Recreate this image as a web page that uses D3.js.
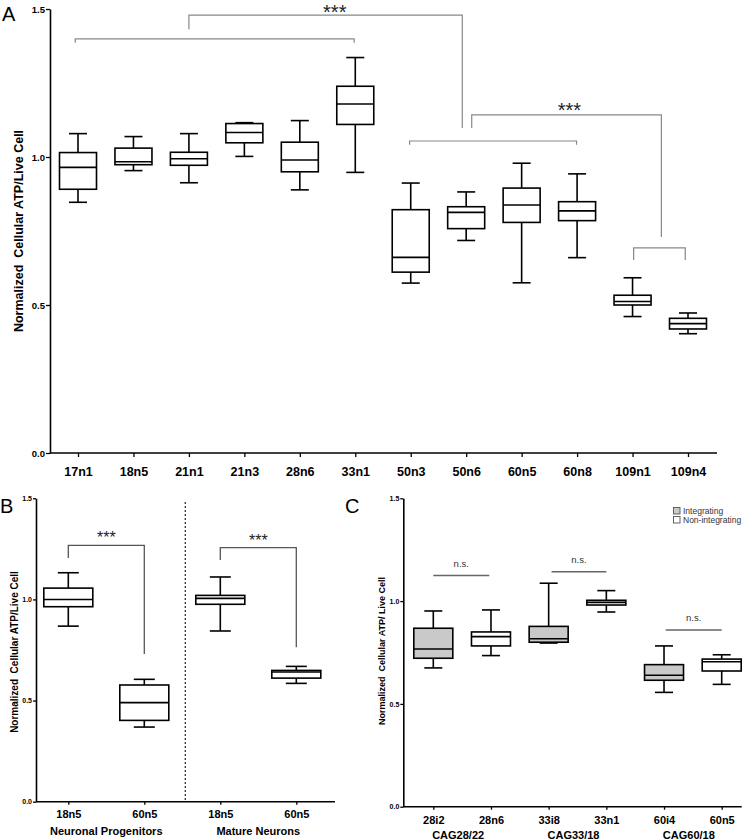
<!DOCTYPE html>
<html><head><meta charset="utf-8">
<script src="https://cdn.jsdelivr.net/npm/d3@7"></script>
<style>body{margin:0;background:#fff} text{font-family:"Liberation Sans",Arial,Helvetica,sans-serif}</style>
</head><body><svg id="c" width="750" height="840"></svg>
<script>
// ---------- DATA ----------
const yTicks = [0, 0.5, 1.0, 1.5];

const catsA = ["17n1","18n5","21n1","21n3","28n6","33n1","50n3","50n6","60n5","60n8","109n1","109n4"];
const maxA = [1.079,1.069,1.079,1.116,1.123,1.336,0.912,0.882,0.979,0.943,0.592,0.473];
const q3A  = [1.015,1.030,1.016,1.113,1.050,1.239,0.822,0.832,0.895,0.849,0.533,0.455];
const medA = [0.965,0.984,0.994,1.083,0.990,1.179,0.661,0.813,0.838,0.818,0.512,0.437];
const q1A  = [0.891,0.974,0.972,1.048,0.950,1.110,0.611,0.758,0.779,0.785,0.500,0.419];
const minA = [0.847,0.954,0.913,1.002,0.889,0.948,0.574,0.718,0.575,0.660,0.461,0.403];

const catsB = ["18n5","60n5","18n5","60n5"];
const groupsB = ["Neuronal Progenitors","Mature Neurons"];
const maxB = [1.132,0.605,1.111,0.669];
const q3B  = [1.056,0.577,1.020,0.649];
const medB = [1.000,0.490,1.005,0.641];
const q1B  = [0.964,0.402,0.976,0.611];
const minB = [0.868,0.369,0.844,0.585];

const catsC = ["28i2","28n6","33i8","33n1","60i4","60n5"];
const typeC = ["Integrating","Non-integrating","Integrating","Non-integrating","Integrating","Non-integrating"];
const groupsC = ["CAG28/22","CAG33/18","CAG60/18"];
const maxC = [0.952,0.957,1.087,1.051,0.782,0.739];
const q3C  = [0.868,0.850,0.877,1.004,0.691,0.718];
const medC = [0.767,0.827,0.817,0.994,0.639,0.705];
const q1C  = [0.722,0.782,0.800,0.981,0.615,0.660];
const minC = [0.675,0.735,0.796,0.947,0.556,0.595];
const legendC = ["Integrating","Non-integrating"];

// brackets: [x-index left, x-index right, y left leg end, y bar, y right leg end]
const bracketsA = [[-0.05,4.98,1.386,1.399,1.386],[2,6.93,1.432,1.479,1.098],[5.98,8.99,1.041,1.054,1.041],[7.1,10.52,1.098,1.142,0.730],[10.02,10.95,0.652,0.693,0.652]];
const starsA = [[4.63,1.466],[8.86,1.136]];
const bracketsB = [[0,1,1.205,1.267,0.730],[2,3,1.195,1.256,0.763]];
const starsB = [[0.5,1.278],[2.5,1.262]];
const nsC = [[0,0.97,1.125,1.167],[2.05,3,1.143,1.187],[4.03,5,0.859,0.905]];

// ---------- DRAW ----------
const svg = d3.select("#c");
const fillC = {"Integrating":"#c9c9c9","Non-integrating":"#ffffff"};

function panel(o){
  const g = svg.append("g");
  const n = o.cats.length;
  const y = d3.scaleLinear().domain([0,1.5]).range([o.y0,o.y1]);
  const x = d3.scalePoint().domain(d3.range(n)).range([o.px0,o.px1]);
  const xi = d3.scaleLinear().domain([0,n-1]).range([o.px0,o.px1]);
  const ya = g.append("g").attr("transform",`translate(${o.ax0},0)`)
    .call(d3.axisLeft(y).tickValues(yTicks).tickFormat(d3.format(".1f")).tickSize(o.tick).tickSizeOuter(0).tickPadding(1));
  ya.select(".domain").attr("stroke","#000").attr("stroke-width",1.6);
  ya.selectAll(".tick line").attr("stroke-width",1.3);
  ya.selectAll("text").attr("font-size",o.tfs).attr("font-weight","bold").attr("fill","#000");
  const xa = g.append("g").attr("transform",`translate(0,${o.y0})`)
    .call(d3.axisBottom(x).tickSize(o.tick).tickSizeOuter(0).tickFormat(i=>o.cats[i]));
  xa.select(".domain").remove();
  xa.selectAll(".tick line").attr("stroke-width",1.3);
  xa.selectAll("text").attr("font-size",o.xfs).attr("font-weight","bold").attr("fill","#000")
    .attr("y",o.xly).attr("dy","0");
  g.append("line").attr("x1",o.ax0).attr("x2",o.ax1).attr("y1",o.y0).attr("y2",o.y0)
    .attr("stroke","#000").attr("stroke-width",1.6);
  const bg = g.append("g").attr("stroke","#000").attr("stroke-width",1.6).attr("fill","none");
  d3.range(n).forEach(i=>{
    const cx = x(i), bw=o.bw, cw=o.cw;
    bg.append("line").attr("x1",cx).attr("x2",cx).attr("y1",y(o.max[i])).attr("y2",y(o.q3[i]));
    bg.append("line").attr("x1",cx).attr("x2",cx).attr("y1",y(o.q1[i])).attr("y2",y(o.min[i]));
    bg.append("line").attr("x1",cx-cw/2).attr("x2",cx+cw/2).attr("y1",y(o.max[i])).attr("y2",y(o.max[i]));
    bg.append("line").attr("x1",cx-cw/2).attr("x2",cx+cw/2).attr("y1",y(o.min[i])).attr("y2",y(o.min[i]));
    bg.append("rect").attr("x",cx-bw/2).attr("width",bw).attr("y",y(o.q3[i])).attr("height",y(o.q1[i])-y(o.q3[i]))
      .attr("fill",o.fill?o.fill(i):"#fff");
    bg.append("line").attr("x1",cx-bw/2).attr("x2",cx+bw/2).attr("y1",y(o.med[i])).attr("y2",y(o.med[i]));
  });
  (o.brackets||[]).forEach(b=>{
    g.append("path").attr("fill","none").attr("stroke",o.bcol).attr("stroke-width",o.bsw)
      .attr("d",d3.line()([[xi(b[0]),y(b[2])],[xi(b[0]),y(b[3])],[xi(b[1]),y(b[3])],[xi(b[1]),y(b[4])]]));
  });
  (o.stars||[]).forEach(s=>{
    g.append("text").attr("x",xi(s[0])).attr("y",y(s[1])).attr("text-anchor","middle")
      .attr("font-size",o.sfs).attr("fill","#222").text("***");
  });
  (o.ns||[]).forEach(s=>{
    g.append("line").attr("x1",xi(s[0])).attr("x2",xi(s[1])).attr("y1",y(s[2])).attr("y2",y(s[2]))
      .attr("stroke","#666").attr("stroke-width",1.5);
    g.append("text").attr("x",(xi(s[0])+xi(s[1]))/2).attr("y",y(s[3])).attr("text-anchor","middle")
      .attr("font-size",9.5).attr("fill","#333").text("n.s.");
  });
  g.append("text").attr("transform",`translate(${o.ytx},${o.yty}) rotate(-90)`).attr("text-anchor","middle")
    .attr("font-size",o.yfs).attr("font-weight","bold").attr("fill","#000").attr("xml:space","preserve").text(o.ytitle);
  g.append("text").attr("x",o.lx).attr("y",o.ly).attr("font-size",20).attr("fill","#000").text(o.letter);
  return {g,x,xi,y};
}

const A = panel({cats:catsA,max:maxA,q3:q3A,med:medA,q1:q1A,min:minA,
  y0:453,y1:9,px0:78,px1:688,ax0:50,ax1:717,tick:4,tfs:9.5,xfs:12.5,xly:23,
  bw:37,cw:18,brackets:bracketsA,stars:starsA,bcol:"#888",bsw:1.2,sfs:20,
  ytitle:"Normalized  Cellular ATP/Live Cell",ytx:22.5,yty:231,yfs:12.5,letter:"A",lx:2,ly:21});

const B = panel({cats:catsB,max:maxB,q3:q3B,med:medB,q1:q1B,min:minB,
  y0:801.7,y1:498.3,px0:68.3,px1:296.3,ax0:36,ax1:335,tick:3,tfs:7,xfs:11,xly:16,
  bw:49,cw:21,brackets:bracketsB,stars:starsB,bcol:"#555",bsw:1.3,sfs:16,
  ytitle:"Normalized  Cellular ATP/Live Cell",ytx:17.5,yty:652,yfs:10,letter:"B",lx:0,ly:513});
B.g.append("line").attr("x1",185.3).attr("x2",185.3).attr("y1",502).attr("y2",801.7)
  .attr("stroke","#333").attr("stroke-width",1.3).attr("stroke-dasharray","2,2");
groupsB.forEach((t,k)=>{
  B.g.append("text").attr("x",(B.xi(2*k)+B.xi(2*k+1))/2).attr("y",835).attr("text-anchor","middle")
    .attr("font-size",11).attr("font-weight","bold").text(t);
});

const C = panel({cats:catsC,max:maxC,q3:q3C,med:medC,q1:q1C,min:minC,
  y0:806.7,y1:498.3,px0:433.3,px1:721.7,ax0:403.3,ax1:741.7,tick:3,tfs:7,xfs:11,xly:17.5,
  bw:39,cw:18,fill:i=>fillC[typeC[i]],ns:nsC,
  ytitle:"Normalized  Cellular ATP/ Live Cell",ytx:385,yty:651,yfs:9,letter:"C",lx:345,ly:513});
groupsC.forEach((t,k)=>{
  C.g.append("text").attr("x",(C.xi(2*k)+C.xi(2*k+1))/2-4).attr("y",838.5).attr("text-anchor","middle")
    .attr("font-size",11).attr("font-weight","bold").text(t);
});
const lg = C.g.append("g");
legendC.forEach((t,k)=>{
  lg.append("rect").attr("x",673.5).attr("y",507.5+k*9).attr("width",6.5).attr("height",6.5)
    .attr("fill",fillC[t]).attr("stroke","#555").attr("stroke-width",0.9);
  lg.append("text").attr("x",683).attr("y",514+k*9).attr("font-size",8.5).attr("fill","#333").text(t);
});
</script></body></html>
